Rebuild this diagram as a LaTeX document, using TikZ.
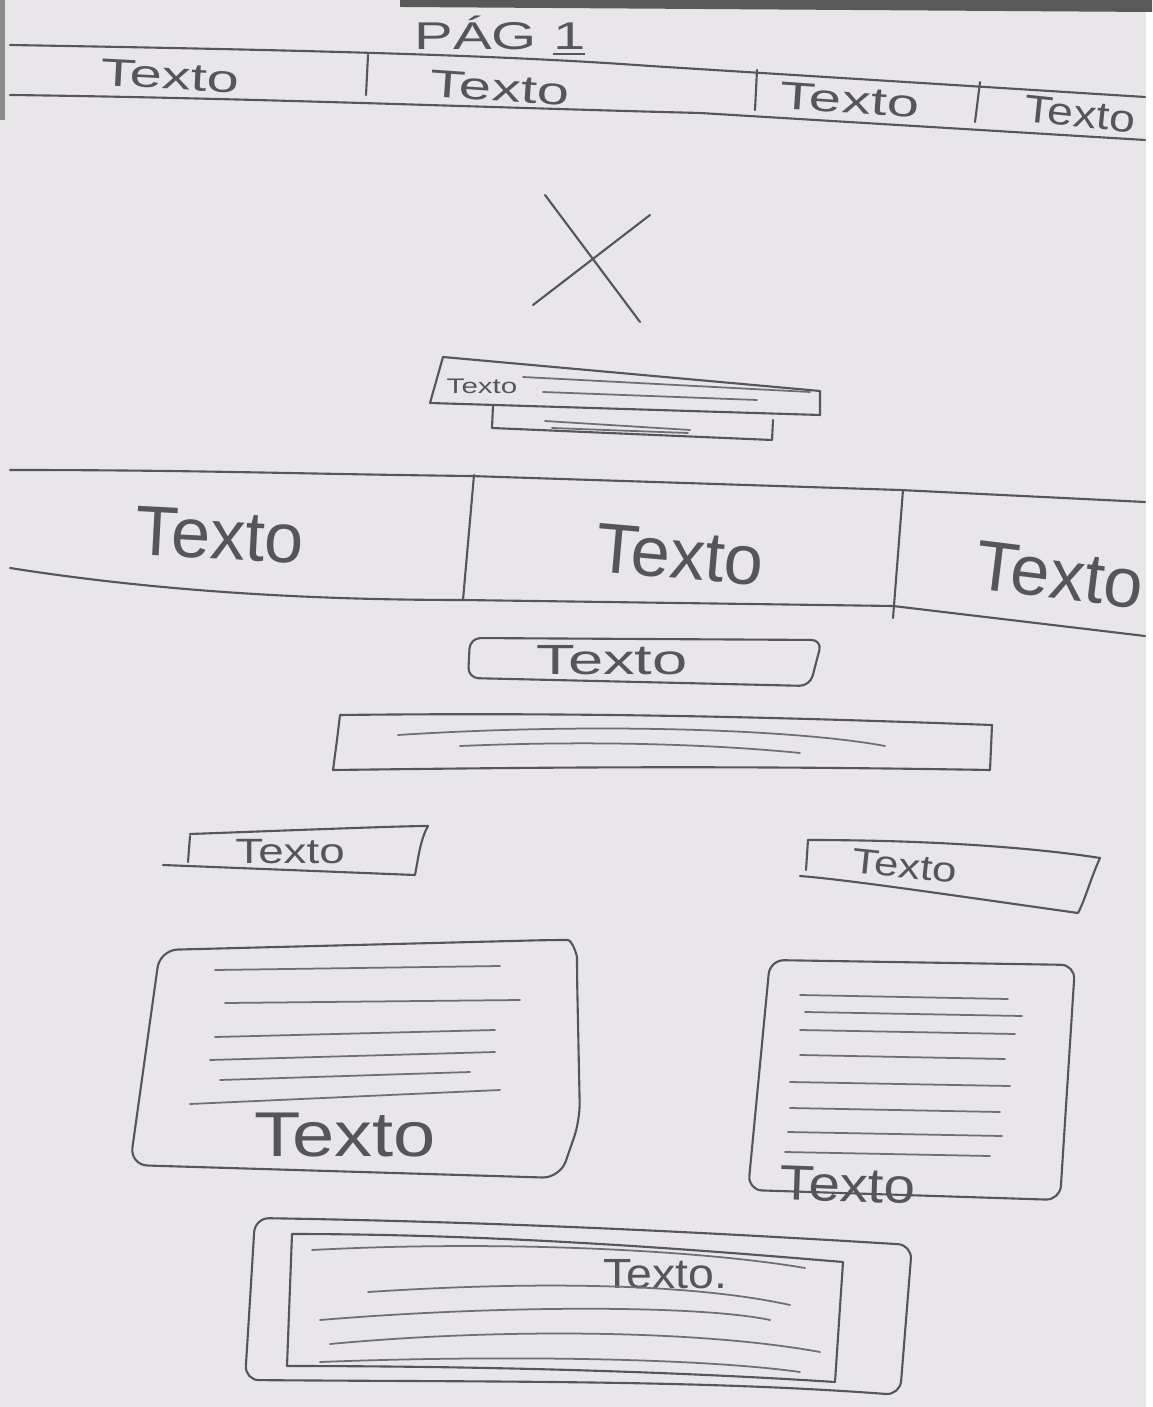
\documentclass[tikz,border=0pt]{standalone}
\usepackage{fontspec}
\setmainfont{Liberation Sans}
\usepackage{tikz}
\tikzset{ink/.style={draw=inkgrey, line width=0.6pt, line cap=round, line join=round},
 thinink/.style={draw=inkgrey!85, line width=0.5pt, line cap=round},
 lbl/.style={text=inkgrey, inner sep=0pt}}
\definecolor{inkgrey}{HTML}{55555A}
\definecolor{paper}{HTML}{E8E6E8}
\newcommand{\hand}[1]{\fontsize{#1}{#1}\selectfont}

\begin{document}
\begin{tikzpicture}[x=0.01cm, y=-0.01cm]
% paper
\fill[paper] (0,0) rectangle (1152,1407);
\fill[white] (1146,0) rectangle (1152,1407);
\fill[black!65] (400,0) -- (1152,0) -- (1152,12) -- (400,7) -- cycle;
\fill[black!45] (0,0) rectangle (5,120);
\useasboundingbox (0,0) rectangle (1152,1407);

% title
\node[lbl, font=\hand{11}, xscale=1.5] (title) at (500,36) {PÁG \underline{1}};

% top menu bar
\draw[ink] (10,45) .. controls (300,50) and (500,55) .. (650,66) -- (1145,97);
\draw[ink] (10,95) .. controls (250,98) and (500,108) .. (700,113) -- (1145,140);
\draw[ink] (368,55) -- (366,95);
\draw[ink] (757,70) -- (755,110);
\draw[ink] (980,82) -- (975,122);
\foreach \x/\y/\r/\s [count=\i] in {170/76/-3/1.5, 500/88/-4/1.5, 850/100/-4/1.5, 1080/114/-6/1.2} {
 \node[lbl, rotate=\r, font=\hand{11}, xscale=\s] (menu\i) at (\x,\y) {Texto};
}

% image placeholder
\draw[ink] (545,195) -- (640,322);
\draw[ink] (650,215) -- (533,305);

% caption box
\draw[ink] (443,357) -- (820,391) -- (820,415) -- (430,403) -- cycle;
\node[lbl, font=\hand{6}, xscale=1.4] (capt) at (482,386) {Texto};
\draw[thinink] (523,377) -- (810,392);
\draw[thinink] (543,392) -- (757,400);
\draw[ink] (493,405) -- (492,428) -- (772,440) -- (773,420);
\draw[thinink] (545,421) -- (690,430);
\draw[thinink] (552,428) -- (688,433);

% big band
\draw[ink] (10,470) .. controls (200,470) and (300,474) .. (470,476) -- (900,490) -- (1145,502);
\draw[ink] (10,568) .. controls (150,590) and (300,600) .. (463,600) -- (893,606) -- (1145,636);
\draw[ink] (474,475) -- (463,600);
\draw[ink] (903,490) -- (893,618);
\foreach \x/\y/\r [count=\i] in {220/535/-3, 680/555/-5, 1060/575/-7} {
 \node[lbl, rotate=\r, font=\hand{20}] (band\i) at (\x,\y) {Texto};
}

% button
\draw[ink, rounded corners=3pt] (470,638) -- (468,678) -- (810,686) -- (822,640) -- cycle;
\node[lbl, font=\hand{12}, xscale=1.5] (btn) at (612,660) {Texto};

% long box
\draw[ink] (340,715) .. controls (600,712) and (800,718) .. (992,725) -- (990,770) .. controls (700,765) and (500,768) .. (333,770) -- (337,740) -- cycle;
\draw[thinink] (398,735) .. controls (600,722) and (800,730) .. (885,746);
\draw[thinink] (460,746) .. controls (600,740) and (720,745) .. (800,753);

% left small button
\draw[ink] (190,834) .. controls (300,830) and (400,826) .. (428,826) .. controls (420,840) and (418,860) .. (415,875) -- (163,865);
\draw[ink] (190,836) -- (188,862);
\node[lbl, font=\hand{10}, xscale=1.3] (lbtn) at (290,852) {Texto};

% right small button
\draw[ink] (808,840) .. controls (950,840) and (1050,850) .. (1100,858) .. controls (1090,880) and (1085,900) .. (1078,913) .. controls (950,895) and (850,880) .. (800,876);
\draw[ink] (808,840) -- (806,870);
\node[lbl, rotate=-6, font=\hand{10}, xscale=1.25] (rbtn) at (905,866) {Texto};

% left card
\draw[ink, rounded corners=5pt] (160,950) -- (550,940) .. controls (572,940) and (577,955) .. (577,975) -- (580,1120) -- (560,1178) -- (130,1165) -- cycle;
\foreach \a/\b/\c/\d in {215/970/500/966, 225/1003/520/1000, 215/1037/495/1030, 210/1060/495/1052, 190/1104/500/1090} {
 \draw[thinink] (\a,\b) -- (\c,\d);
}
\draw[thinink] (220,1080) -- (470,1072);
\node[lbl, font=\hand{18}, xscale=1.2] (lcard) at (345,1135) {Texto};

% right card
\draw[ink, rounded corners=4pt] (770,960) -- (1075,965) -- (1060,1200) -- (748,1190) -- cycle;
\foreach \b/\a/\c in {995/800/1008, 1012/805/1022, 1030/800/1015, 1055/800/1005, 1082/790/1010, 1108/790/1000, 1132/788/1002, 1152/785/990} {
 \draw[thinink] (\a,\b) -- (\c,\b+4);
}
\node[lbl, rotate=-2, font=\hand{14}, xscale=1.15] (rcard) at (848,1185) {Texto};

% bottom block
\draw[ink, rounded corners=4pt] (255,1218) .. controls (500,1222) and (700,1232) .. (912,1245) -- (900,1395) .. controls (700,1380) and (500,1382) .. (245,1380) -- (250,1300) -- cycle;
\draw[ink] (292,1234) .. controls (500,1234) and (700,1250) .. (843,1262) -- (835,1382) .. controls (650,1370) and (450,1366) .. (287,1366) -- cycle;
\node[lbl, font=\hand{12}, xscale=1.1] (bottom) at (665,1274) {Texto.};
\draw[thinink] (312,1250) .. controls (500,1240) and (700,1250) .. (805,1268);
\draw[thinink] (368,1292) .. controls (550,1280) and (700,1285) .. (790,1305);
\draw[thinink] (320,1320) .. controls (500,1305) and (700,1305) .. (770,1320);
\draw[thinink] (330,1344) .. controls (500,1328) and (700,1330) .. (820,1352);
\draw[thinink] (320,1362) .. controls (500,1355) and (700,1358) .. (800,1372);
\end{tikzpicture}
\end{document}
